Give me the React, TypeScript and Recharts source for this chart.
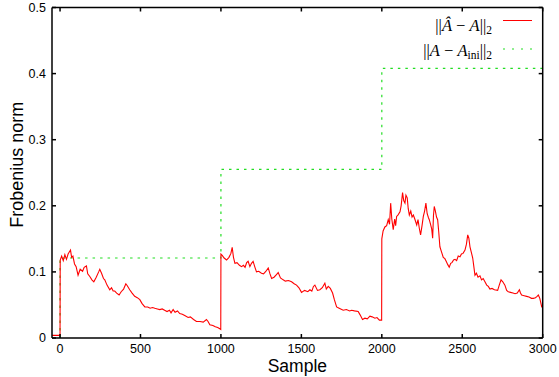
import React from "react";
import { LineChart, Line, XAxis, YAxis } from "recharts";

const redSamples: number[] = [
  -50, -1, 0, 1, 10, 20, 30, 40, 50, 65, 72, 80, 90, 100, 112, 125, 140, 150, 164, 172, 185, 198, 210, 225, 240, 247, 258, 270, 278, 292, 309, 320, 330, 340, 352, 367, 380, 395, 409, 418, 433, 448, 464, 480, 496, 510, 527, 545, 560, 575, 589, 605, 620, 635, 650, 665, 680, 690, 703, 715, 730, 744, 760, 775, 796, 810, 830, 848, 870, 890, 910, 920, 931, 950, 965, 980, 993, 999,
  1000, 1008, 1020, 1035, 1050, 1062, 1070, 1078, 1087, 1100, 1115, 1128, 1140, 1150, 1160, 1169, 1180, 1190, 1200, 1210, 1221, 1235, 1252, 1265, 1280, 1294, 1305, 1315, 1330, 1345, 1356, 1370, 1387, 1400, 1420, 1439, 1455, 1470, 1485, 1501, 1520, 1540, 1553, 1565, 1575, 1584, 1600, 1615, 1630, 1646, 1655, 1667, 1680, 1694, 1705, 1719, 1735, 1760, 1780, 1800, 1812, 1830, 1853, 1865, 1880, 1895, 1910, 1926, 1940, 1957, 1970, 1985, 1999,
  2000, 2008, 2019, 2030, 2040, 2048, 2055, 2062, 2071, 2080, 2086, 2092, 2100, 2113, 2120, 2129, 2136, 2144, 2150, 2158, 2164, 2171, 2180, 2188, 2196, 2205, 2217, 2225, 2233, 2241, 2250, 2258, 2266, 2274, 2282, 2290, 2295, 2303, 2310, 2316, 2321, 2326, 2333, 2340, 2347, 2354, 2361, 2370, 2382, 2392, 2400, 2410, 2419, 2428, 2436, 2446, 2455, 2465, 2475, 2486, 2495, 2505, 2517, 2526, 2534, 2541, 2548, 2556, 2565, 2572, 2579, 2588, 2598, 2610, 2620, 2630, 2641, 2652, 2662, 2672, 2685, 2700, 2720, 2730, 2741, 2752, 2765, 2776, 2786, 2800, 2815, 2828, 2842, 2855, 2862, 2869, 2885, 2900, 2915, 2930, 2942, 2955, 2965, 2973, 2982, 2994, 3000,
];

const redValues: number[] = [
  0.004, 0.004, 0.004, 0.118, 0.124, 0.117, 0.126, 0.119, 0.127, 0.133, 0.122, 0.124, 0.112, 0.108, 0.095, 0.104, 0.101, 0.107, 0.109, 0.097, 0.093, 0.088, 0.085, 0.092, 0.1, 0.104, 0.098, 0.09, 0.088, 0.08, 0.073, 0.076, 0.071, 0.071, 0.068, 0.065, 0.07, 0.074, 0.082, 0.079, 0.073, 0.068, 0.063, 0.061, 0.058, 0.052, 0.047, 0.047, 0.045, 0.046, 0.045, 0.044, 0.043, 0.044, 0.042, 0.04, 0.042, 0.038, 0.043, 0.039, 0.041, 0.037, 0.036, 0.034, 0.031, 0.032, 0.028, 0.025, 0.025, 0.024, 0.028, 0.025, 0.02, 0.019, 0.017, 0.016, 0.014, 0.013,
  0.127, 0.125, 0.121, 0.118, 0.122, 0.128, 0.137, 0.122, 0.113, 0.114, 0.11, 0.108, 0.11, 0.107, 0.114, 0.116, 0.108, 0.113, 0.116, 0.108, 0.1, 0.101, 0.098, 0.097, 0.101, 0.106, 0.097, 0.09, 0.092, 0.096, 0.099, 0.091, 0.088, 0.086, 0.087, 0.085, 0.082, 0.08, 0.076, 0.069, 0.072, 0.07, 0.073, 0.071, 0.078, 0.08, 0.072, 0.073, 0.076, 0.083, 0.074, 0.078, 0.075, 0.068, 0.058, 0.047, 0.045, 0.042, 0.043, 0.041, 0.042, 0.041, 0.04, 0.035, 0.028, 0.03, 0.029, 0.033, 0.032, 0.03, 0.031, 0.027, 0.027,
  0.15, 0.162, 0.168, 0.17, 0.179, 0.172, 0.204, 0.18, 0.164, 0.18, 0.17, 0.184, 0.186, 0.191, 0.2, 0.22, 0.208, 0.204, 0.216, 0.212, 0.196, 0.186, 0.192, 0.183, 0.186, 0.18, 0.171, 0.179, 0.166, 0.156, 0.17, 0.184, 0.192, 0.204, 0.188, 0.182, 0.179, 0.172, 0.165, 0.151, 0.185, 0.199, 0.192, 0.183, 0.179, 0.16, 0.138, 0.131, 0.122, 0.12, 0.116, 0.111, 0.107, 0.113, 0.114, 0.118, 0.119, 0.117, 0.124, 0.123, 0.127, 0.128, 0.133, 0.142, 0.156, 0.151, 0.138, 0.13, 0.121, 0.108, 0.095, 0.098, 0.092, 0.094, 0.088, 0.09, 0.085, 0.08, 0.078, 0.074, 0.075, 0.073, 0.072, 0.08, 0.088, 0.085, 0.08, 0.072, 0.07, 0.069, 0.068, 0.067, 0.068, 0.073, 0.068, 0.065, 0.064, 0.063, 0.062, 0.06, 0.06, 0.061, 0.063, 0.065, 0.06, 0.047, 0.046,
];

const greenSamples: number[] = [0, 0, 1000, 1000, 2000, 2000, 3000];
const greenValues: number[] = [0, 0.121, 0.121, 0.255, 0.255, 0.408, 0.408];

const xTicks: number[] = [0, 500, 1000, 1500, 2000, 2500, 3000];
const yTicks: number[] = [0, 0.1, 0.2, 0.3, 0.4, 0.5];

const xTitle = "Sample";
const yTitle = "Frobenius norm";

const redData = redSamples.map((x, i) => ({ x, v: redValues[i] }));
const greenData = greenSamples.map((x, i) => ({ x, v: greenValues[i] }));

const SANS = "'Liberation Sans', Arial, Helvetica, sans-serif";
const SERIF = "'Liberation Serif', 'Times New Roman', Times, serif";

const tickStyle = { fontFamily: SANS, fontSize: 12.5, fill: "#000" };
const axisLineStyle = { stroke: "#000", strokeWidth: 1.5 };

const YTitle = (props: any) => {
  const vb = props.viewBox || { x: 0, y: 7.5, width: 52, height: 330.5 };
  const cx = 17;
  const cy = vb.y + vb.height / 2 - 8;
  return (
    <text
      x={cx}
      y={cy}
      transform={`rotate(-90 ${cx} ${cy})`}
      textAnchor="middle"
      dominantBaseline="central"
      fontFamily={SANS}
      fontSize={18}
      fill="#000"
    >
      {yTitle}
    </text>
  );
};

export default function App() {
  return (
    <div style={{ position: "absolute", left: 0, top: 0, width: 559, height: 377, background: "#fff" }}>
      <LineChart
        width={559}
        height={377}
        margin={{ top: 6.5, right: 15.3, bottom: 0, left: 0 }}
      >
        <XAxis
          xAxisId="bottom"
          type="number"
          dataKey="x"
          domain={[-50, 3000]}
          ticks={xTicks}
          allowDataOverflow
          height={39}
          tickSize={-4}
          tickMargin={10}
          axisLine={axisLineStyle}
          tickLine={axisLineStyle}
          tick={tickStyle}
          label={{ value: xTitle, position: "insideBottom", offset: 5, style: { fontFamily: SANS, fontSize: 17.5, fill: "#000" } }}
        />
        <XAxis
          xAxisId="top"
          orientation="top"
          type="number"
          dataKey="x"
          domain={[-50, 3000]}
          ticks={xTicks}
          allowDataOverflow
          height={1}
          tickSize={-4}
          axisLine={axisLineStyle}
          tickLine={axisLineStyle}
          tickFormatter={() => ""}
        />
        <YAxis
          yAxisId="left"
          type="number"
          domain={[0, 0.5]}
          ticks={yTicks}
          allowDataOverflow
          width={52}
          tickSize={-4}
          tickMargin={10}
          axisLine={axisLineStyle}
          tickLine={axisLineStyle}
          tick={tickStyle}
          tickFormatter={(v: number) => (v === 0 ? "0" : v.toFixed(1))}
          label={{ content: YTitle }}
        />
        <YAxis
          yAxisId="right"
          orientation="right"
          type="number"
          domain={[0, 0.5]}
          ticks={yTicks}
          allowDataOverflow
          width={1}
          tickSize={-4}
          axisLine={axisLineStyle}
          tickLine={axisLineStyle}
          tickFormatter={() => ""}
        />
        <Line
          xAxisId="bottom"
          yAxisId="left"
          data={greenData}
          dataKey="v"
          type="linear"
          stroke="#22dd22"
          strokeWidth={1.2}
          strokeDasharray="2.5 5"
          dot={false}
          activeDot={false}
          isAnimationActive={false}
        />
        <Line
          xAxisId="bottom"
          yAxisId="left"
          data={redData}
          dataKey="v"
          type="linear"
          stroke="#ff0000"
          strokeWidth={1.1}
          dot={false}
          activeDot={false}
          isAnimationActive={false}
        />
      </LineChart>
      <svg
        width={559}
        height={377}
        style={{ position: "absolute", left: 0, top: 0, pointerEvents: "none" }}
      >
        <text x={492} y={30.5} textAnchor="end" fontFamily={SERIF} fontSize={16.5} fill="#000">
          <tspan>||</tspan>
          <tspan fontStyle="italic">Â</tspan>
          <tspan> − </tspan>
          <tspan fontStyle="italic">A</tspan>
          <tspan>||</tspan>
          <tspan fontSize={11.5} dy={3}>2</tspan>
        </text>
        <line x1={503} y1={20.5} x2={532} y2={20.5} stroke="#ff0000" strokeWidth={1} />
        <text x={492} y={55.5} textAnchor="end" fontFamily={SERIF} fontSize={16.5} fill="#000">
          <tspan>||</tspan>
          <tspan fontStyle="italic">A</tspan>
          <tspan> − </tspan>
          <tspan fontStyle="italic">A</tspan>
          <tspan fontSize={11.5} dy={3}>ini</tspan>
          <tspan dy={-3}>||</tspan>
          <tspan fontSize={11.5} dy={3}>2</tspan>
        </text>
        <line x1={503} y1={49} x2={532} y2={49} stroke="#22dd22" strokeWidth={1.2} strokeDasharray="2 7" />
      </svg>
    </div>
  );
}
